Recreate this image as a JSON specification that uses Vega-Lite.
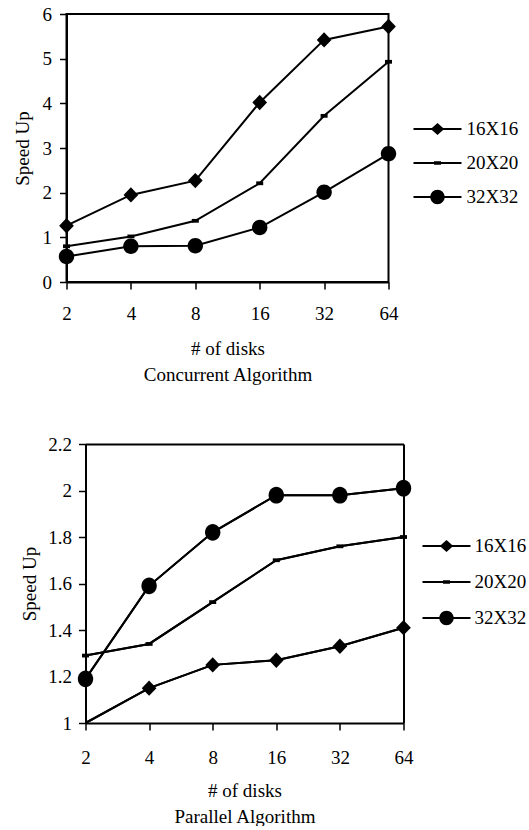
{
  "$schema": "https://vega.github.io/schema/vega-lite/v6.json",
  "background": "white",
  "padding": {"left": 11.5, "top": 4, "right": 0, "bottom": 0},
  "spacing": 49,
  "datasets": {
    "concurrent": [
      {"series": "16X16", "disks": 2, "speedup": 1.26},
      {"series": "16X16", "disks": 4, "speedup": 1.95},
      {"series": "16X16", "disks": 8, "speedup": 2.27},
      {"series": "16X16", "disks": 16, "speedup": 4.02},
      {"series": "16X16", "disks": 32, "speedup": 5.42},
      {"series": "16X16", "disks": 64, "speedup": 5.72},
      {"series": "20X20", "disks": 2, "speedup": 0.8},
      {"series": "20X20", "disks": 4, "speedup": 1.02},
      {"series": "20X20", "disks": 8, "speedup": 1.37},
      {"series": "20X20", "disks": 16, "speedup": 2.21},
      {"series": "20X20", "disks": 32, "speedup": 3.72},
      {"series": "20X20", "disks": 64, "speedup": 4.93},
      {"series": "32X32", "disks": 2, "speedup": 0.57},
      {"series": "32X32", "disks": 4, "speedup": 0.8},
      {"series": "32X32", "disks": 8, "speedup": 0.81},
      {"series": "32X32", "disks": 16, "speedup": 1.22},
      {"series": "32X32", "disks": 32, "speedup": 2.01},
      {"series": "32X32", "disks": 64, "speedup": 2.87}
    ],
    "parallel": [
      {"series": "16X16", "disks": 2, "speedup": 1.0},
      {"series": "16X16", "disks": 4, "speedup": 1.15},
      {"series": "16X16", "disks": 8, "speedup": 1.25},
      {"series": "16X16", "disks": 16, "speedup": 1.27},
      {"series": "16X16", "disks": 32, "speedup": 1.33},
      {"series": "16X16", "disks": 64, "speedup": 1.41},
      {"series": "20X20", "disks": 2, "speedup": 1.29},
      {"series": "20X20", "disks": 4, "speedup": 1.34},
      {"series": "20X20", "disks": 8, "speedup": 1.52},
      {"series": "20X20", "disks": 16, "speedup": 1.7},
      {"series": "20X20", "disks": 32, "speedup": 1.76},
      {"series": "20X20", "disks": 64, "speedup": 1.8},
      {"series": "32X32", "disks": 2, "speedup": 1.19},
      {"series": "32X32", "disks": 4, "speedup": 1.59},
      {"series": "32X32", "disks": 8, "speedup": 1.82},
      {"series": "32X32", "disks": 16, "speedup": 1.98},
      {"series": "32X32", "disks": 32, "speedup": 1.98},
      {"series": "32X32", "disks": 64, "speedup": 2.01}
    ]
  },
  "config": {
    "font": "Liberation Serif",
    "view": {"stroke": "black", "strokeWidth": 2},
    "axis": {
      "labelFont": "Liberation Serif",
      "labelFontSize": 19,
      "labelColor": "black",
      "titleFont": "Liberation Serif",
      "titleFontSize": 19,
      "titleFontWeight": "normal",
      "titleColor": "black",
      "domainColor": "black",
      "domainWidth": 2,
      "tickColor": "black",
      "tickWidth": 1.5,
      "tickSize": 7,
      "grid": false
    },
    "legend": {
      "labelFont": "Liberation Serif",
      "labelFontSize": 19,
      "labelColor": "black",
      "symbolFillColor": "black",
      "symbolStrokeWidth": 0,
      "symbolSize": 2304,
      "symbolOpacity": 1,
      "labelOffset": 4
    }
  },
  "vconcat": [
    {
      "data": {"name": "concurrent"},
      "width": 322,
      "height": 268,
      "resolve": {"scale": {"shape": "independent"}},
      "encoding": {
        "x": {
          "field": "disks",
          "type": "ordinal",
          "scale": {"type": "point", "padding": 0},
          "axis": {
            "labelAngle": 0,
            "labelPadding": 15,
            "title": ["# of disks", "Concurrent Algorithm"],
            "titlePadding": 16,
            "titleLineHeight": 26.5
          }
        },
        "y": {
          "field": "speedup",
          "type": "quantitative",
          "scale": {"domain": [0, 6]},
          "axis": {
            "values": [0, 1, 2, 3, 4, 5, 6],
            "title": "Speed Up",
            "titlePadding": 10,
            "labelPadding": 8
          }
        }
      },
      "layer": [
        {
          "mark": {"type": "line", "color": "black", "strokeWidth": 2},
          "encoding": {"detail": {"field": "series"}}
        },
        {
          "mark": {"type": "point", "filled": true, "color": "black", "opacity": 1, "size": 196},
          "encoding": {
            "shape": {
              "field": "series",
              "type": "nominal",
              "scale": {
                "domain": ["16X16", "20X20", "32X32"],
                "range": [
                  "M-1.05,0L0,-1.1L1.05,0L0,1.1Z",
                  "M-0.5,-0.27H0.5V0.27H-0.5Z",
                  "M-1.1,0A1.1,1.1 0 1,1 1.1,0A1.1,1.1 0 1,1 -1.1,0Z"
                ]
              },
              "legend": null
            }
          }
        },
        {
          "mark": {"type": "point", "filled": true, "color": "black", "opacity": 0},
          "encoding": {
            "shape": {
              "field": "series",
              "type": "nominal",
              "scale": {
                "domain": ["16X16", "20X20", "32X32"],
                "range": [
                  "M-1,-0.042H1V0.042H-1Z M-0.28,0L0,-0.25L0.28,0L0,0.25Z",
                  "M-1,-0.042H1V0.042H-1Z M-0.146,-0.073H0.146V0.073H-0.146Z",
                  "M-1,-0.042H1V0.042H-1Z M-0.3,0A0.3,0.3 0 1,1 0.3,0A0.3,0.3 0 1,1 -0.3,0Z"
                ]
              },
              "legend": {
                "title": null,
                "orient": "none",
                "legendX": 347,
                "legendY": 91,
                "symbolOpacity": 1,
                "rowPadding": 0,
                "labelOffset": 5
              }
            }
          }
        }
      ]
    },
    {
      "data": {"name": "parallel"},
      "width": 337,
      "height": 279,
      "view": {"stroke": null},
      "resolve": {"axis": {"x": "independent", "y": "independent"}, "scale": {"shape": "independent"}},
      "layer": [
        {
          "mark": {"type": "line", "color": "black", "strokeWidth": 2},
          "encoding": {
            "x": {
              "field": "disks",
              "type": "ordinal",
              "scale": {"type": "point", "padding": 0, "range": [19, 337]},
              "axis": {
                "labelAngle": 0,
                "labelPadding": 18,
                "title": ["# of disks", "Parallel Algorithm"],
                "titlePadding": 14,
                "titleLineHeight": 26
              }
            },
            "y": {
              "field": "speedup",
              "type": "quantitative",
              "scale": {"domain": [1, 2.2]},
              "axis": {
                "values": [1, 1.2, 1.4, 1.6, 1.8, 2, 2.2],
                "format": ".1~f",
                "title": "Speed Up",
                "titlePadding": 8,
                "labelPadding": 7,
                "offset": -19
              }
            },
            "detail": {"field": "series"}
          }
        },
        {
          "transform": [{"filter": "datum.speedup > 1"}],
          "mark": {"type": "point", "filled": true, "color": "black", "opacity": 1, "size": 196},
          "encoding": {
            "x": {"field": "disks", "type": "ordinal", "axis": null},
            "y": {"field": "speedup", "type": "quantitative", "axis": null},
            "shape": {
              "field": "series",
              "type": "nominal",
              "scale": {
                "domain": ["16X16", "20X20", "32X32"],
                "range": [
                  "M-1.05,0L0,-1.1L1.05,0L0,1.1Z",
                  "M-0.5,-0.27H0.5V0.27H-0.5Z",
                  "M-1.1,0A1.1,1.2 0 1,1 1.1,0A1.1,1.2 0 1,1 -1.1,0Z"
                ]
              },
              "legend": null
            }
          }
        },
        {
          "mark": {"type": "point", "filled": true, "color": "black", "opacity": 0},
          "encoding": {
            "x": {"field": "disks", "type": "ordinal", "axis": null},
            "y": {"field": "speedup", "type": "quantitative", "axis": null},
            "shape": {
              "field": "series",
              "type": "nominal",
              "scale": {
                "domain": ["16X16", "20X20", "32X32"],
                "range": [
                  "M-1,-0.042H1V0.042H-1Z M-0.28,0L0,-0.25L0.28,0L0,0.25Z",
                  "M-1,-0.042H1V0.042H-1Z M-0.146,-0.073H0.146V0.073H-0.146Z",
                  "M-1,-0.042H1V0.042H-1Z M-0.3,0A0.3,0.3 0 1,1 0.3,0A0.3,0.3 0 1,1 -0.3,0Z"
                ]
              },
              "legend": {
                "title": null,
                "orient": "none",
                "legendX": 356,
                "legendY": 78,
                "symbolOpacity": 1,
                "rowPadding": 2,
                "labelOffset": 4
              }
            }
          }
        },
        {
          "mark": {"type": "line", "color": "black", "strokeWidth": 2},
          "encoding": {
            "x": {
              "field": "disks",
              "type": "ordinal",
              "axis": {"orient": "top", "labels": false, "ticks": false, "title": null}
            },
            "y": {
              "field": "speedup",
              "type": "quantitative",
              "axis": {"orient": "right", "labels": false, "ticks": false, "title": null}
            },
            "detail": {"field": "series"}
          }
        }
      ]
    }
  ]
}
